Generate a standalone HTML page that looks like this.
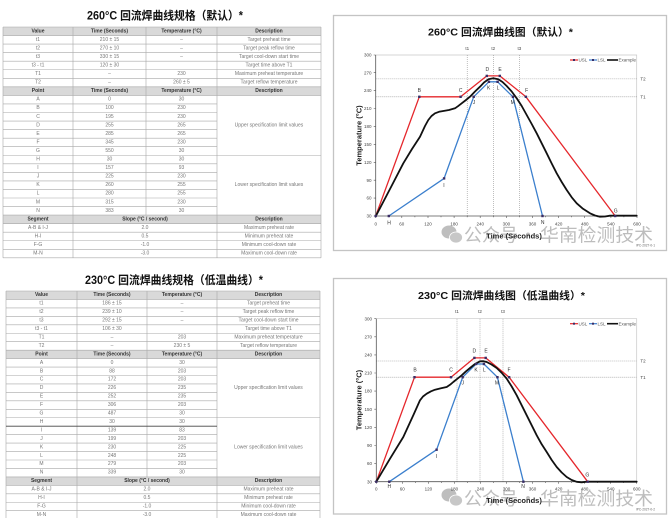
<!DOCTYPE html>
<html><head><meta charset="utf-8"><style>html,body{margin:0;padding:0;background:#fff}svg{display:block}</style></head>
<body>
<svg width="672" height="518" viewBox="0 0 672 518" xmlns="http://www.w3.org/2000/svg" font-family="Liberation Sans, Noto Sans CJK SC, sans-serif">
<rect width="672" height="518" fill="#fff"/>

<!-- ===================== TABLE 1 ===================== -->
<text x="87" y="19.5" font-size="11.5" font-weight="bold" fill="#111" textLength="156" lengthAdjust="spacingAndGlyphs">260°C 回流焊曲线规格（默认）*</text>
<g>
<rect x="3" y="27" width="318" height="8.55" fill="#d9d9d9"/>
<rect x="3" y="86.85" width="318" height="8.55" fill="#d9d9d9"/>
<rect x="3" y="215.1" width="318" height="8.55" fill="#d9d9d9"/>
<path fill="none" stroke="#a8a8a8" stroke-width="0.6" d="M3 27H321M3 35.55H321M3 44.1H321M3 52.65H321M3 61.2H321M3 69.75H321M3 78.3H321M3 86.85H321M3 95.4H321M3 103.95H217M3 112.5H217M3 121.05H217M3 129.6H217M3 138.15H217M3 146.7H217M3 155.25H321M3 163.8H217M3 172.35H217M3 180.9H217M3 189.45H217M3 198H217M3 206.55H217M3 215.1H321M3 223.65H321M3 232.2H321M3 240.75H321M3 249.3H321M3 257.85H321M3 27V257.85M73 27V257.85M146 27V215.1M217 27V257.85M321 27V257.85"/>
</g>
<g font-size="5" text-anchor="middle" dominant-baseline="central" fill="#333" font-weight="bold">
<text x="38" y="31.3">Value</text><text x="109.5" y="31.3">Time (Seconds)</text><text x="181.5" y="31.3">Temperature (°C)</text><text x="269" y="31.3">Description</text>
<text x="38" y="91.1">Point</text><text x="109.5" y="91.1">Time (Seconds)</text><text x="181.5" y="91.1">Temperature (°C)</text><text x="269" y="91.1">Description</text>
<text x="38" y="219.4">Segment</text><text x="145" y="219.4">Slope (°C / second)</text><text x="269" y="219.4">Description</text>
</g>
<g font-size="5" text-anchor="middle" dominant-baseline="central" fill="#777">
<text x="38" y="39.8">t1</text><text x="109.5" y="39.8">210 ± 15</text><text x="181.5" y="39.8">–</text><text x="269" y="39.8">Target preheat time</text>
<text x="38" y="48.4">t2</text><text x="109.5" y="48.4">270 ± 10</text><text x="181.5" y="48.4">–</text><text x="269" y="48.4">Target peak reflow time</text>
<text x="38" y="56.9">t3</text><text x="109.5" y="56.9">330 ± 15</text><text x="181.5" y="56.9">–</text><text x="269" y="56.9">Target cool-down start time</text>
<text x="38" y="65.5">t3 - t1</text><text x="109.5" y="65.5">120 ± 30</text><text x="269" y="65.5">Target time above T1</text>
<text x="38" y="74.0">T1</text><text x="109.5" y="74.0">–</text><text x="181.5" y="74.0">230</text><text x="269" y="74.0">Maximum preheat temperature</text>
<text x="38" y="82.6">T2</text><text x="109.5" y="82.6">–</text><text x="181.5" y="82.6">260 ± 5</text><text x="269" y="82.6">Target reflow temperature</text>
<text x="38" y="99.7">A</text><text x="109.5" y="99.7">0</text><text x="181.5" y="99.7">30</text>
<text x="38" y="108.2">B</text><text x="109.5" y="108.2">100</text><text x="181.5" y="108.2">230</text>
<text x="38" y="116.8">C</text><text x="109.5" y="116.8">195</text><text x="181.5" y="116.8">230</text>
<text x="38" y="125.3">D</text><text x="109.5" y="125.3">255</text><text x="181.5" y="125.3">265</text>
<text x="38" y="133.9">E</text><text x="109.5" y="133.9">285</text><text x="181.5" y="133.9">265</text>
<text x="38" y="142.4">F</text><text x="109.5" y="142.4">345</text><text x="181.5" y="142.4">230</text>
<text x="38" y="151.0">G</text><text x="109.5" y="151.0">550</text><text x="181.5" y="151.0">30</text>
<text x="38" y="159.5">H</text><text x="109.5" y="159.5">30</text><text x="181.5" y="159.5">30</text>
<text x="38" y="168.1">I</text><text x="109.5" y="168.1">157</text><text x="181.5" y="168.1">93</text>
<text x="38" y="176.6">J</text><text x="109.5" y="176.6">225</text><text x="181.5" y="176.6">230</text>
<text x="38" y="185.2">K</text><text x="109.5" y="185.2">260</text><text x="181.5" y="185.2">255</text>
<text x="38" y="193.7">L</text><text x="109.5" y="193.7">280</text><text x="181.5" y="193.7">255</text>
<text x="38" y="202.3">M</text><text x="109.5" y="202.3">315</text><text x="181.5" y="202.3">230</text>
<text x="38" y="210.8">N</text><text x="109.5" y="210.8">383</text><text x="181.5" y="210.8">30</text>
<text x="269" y="125.3">Upper specification limit values</text>
<text x="269" y="185.2">Lower specification limit values</text>
<text x="38" y="227.9">A-B &amp; I-J</text><text x="145" y="227.9">2.0</text><text x="269" y="227.9">Maximum preheat rate</text>
<text x="38" y="236.5">H-I</text><text x="145" y="236.5">0.5</text><text x="269" y="236.5">Minimum preheat rate</text>
<text x="38" y="245.0">F-G</text><text x="145" y="245.0">-1.0</text><text x="269" y="245.0">Minimum cool-down rate</text>
<text x="38" y="253.6">M-N</text><text x="145" y="253.6">-3.0</text><text x="269" y="253.6">Maximum cool-down rate</text>
</g>

<!-- ===================== TABLE 2 ===================== -->
<text x="85" y="284" font-size="11.5" font-weight="bold" fill="#111" textLength="178" lengthAdjust="spacingAndGlyphs">230°C 回流焊曲线规格（低温曲线）*</text>
<g>
<rect x="6" y="291" width="314" height="8.45" fill="#d9d9d9"/>
<rect x="6" y="350.15" width="314" height="8.45" fill="#d9d9d9"/>
<rect x="6" y="476.9" width="314" height="8.45" fill="#d9d9d9"/>
<path fill="none" stroke="#a8a8a8" stroke-width="0.6" d="M6 291H320M6 299.45H320M6 307.9H320M6 316.35H320M6 324.8H320M6 333.25H320M6 341.7H320M6 350.15H320M6 358.6H320M6 367.05H217M6 375.5H217M6 383.95H217M6 392.4H217M6 400.85H217M6 409.3H217M6 417.75H320M6 434.65H217M6 443.1H217M6 451.55H217M6 460H217M6 468.45H217M6 476.9H320M6 485.35H320M6 493.8H320M6 502.25H320M6 510.7H320M6 291V519M77 291V519M147 291V476.9M217 291V519M320 291V519"/>
<path d="M6 426.2H217" stroke="#444" stroke-width="0.8"/>
</g>
<g font-size="5" text-anchor="middle" dominant-baseline="central" fill="#333" font-weight="bold">
<text x="41.5" y="295.2">Value</text><text x="112" y="295.2">Time (Seconds)</text><text x="182" y="295.2">Temperature (°C)</text><text x="268.5" y="295.2">Description</text>
<text x="41.5" y="354.4">Point</text><text x="112" y="354.4">Time (Seconds)</text><text x="182" y="354.4">Temperature (°C)</text><text x="268.5" y="354.4">Description</text>
<text x="41.5" y="481.1">Segment</text><text x="147" y="481.1">Slope (°C / second)</text><text x="268.5" y="481.1">Description</text>
</g>
<g font-size="5" text-anchor="middle" dominant-baseline="central" fill="#777">
<text x="41.5" y="303.7">t1</text><text x="112" y="303.7">186 ± 15</text><text x="182" y="303.7">–</text><text x="268.5" y="303.7">Target preheat time</text>
<text x="41.5" y="312.1">t2</text><text x="112" y="312.1">239 ± 10</text><text x="182" y="312.1">–</text><text x="268.5" y="312.1">Target peak reflow time</text>
<text x="41.5" y="320.6">t3</text><text x="112" y="320.6">292 ± 15</text><text x="182" y="320.6">–</text><text x="268.5" y="320.6">Target cool-down start time</text>
<text x="41.5" y="329.0">t3 - t1</text><text x="112" y="329.0">106 ± 30</text><text x="268.5" y="329.0">Target time above T1</text>
<text x="41.5" y="337.5">T1</text><text x="112" y="337.5">–</text><text x="182" y="337.5">203</text><text x="268.5" y="337.5">Maximum preheat temperature</text>
<text x="41.5" y="345.9">T2</text><text x="112" y="345.9">–</text><text x="182" y="345.9">230 ± 5</text><text x="268.5" y="345.9">Target reflow temperature</text>
<text x="41.5" y="362.8">A</text><text x="112" y="362.8">0</text><text x="182" y="362.8">30</text>
<text x="41.5" y="371.3">B</text><text x="112" y="371.3">88</text><text x="182" y="371.3">203</text>
<text x="41.5" y="379.7">C</text><text x="112" y="379.7">172</text><text x="182" y="379.7">203</text>
<text x="41.5" y="388.2">D</text><text x="112" y="388.2">226</text><text x="182" y="388.2">235</text>
<text x="41.5" y="396.6">E</text><text x="112" y="396.6">252</text><text x="182" y="396.6">235</text>
<text x="41.5" y="405.1">F</text><text x="112" y="405.1">306</text><text x="182" y="405.1">203</text>
<text x="41.5" y="413.5">G</text><text x="112" y="413.5">487</text><text x="182" y="413.5">30</text>
<text x="41.5" y="422.0">H</text><text x="112" y="422.0">30</text><text x="182" y="422.0">30</text>
<text x="41.5" y="430.4">I</text><text x="112" y="430.4">139</text><text x="182" y="430.4">83</text>
<text x="41.5" y="438.9">J</text><text x="112" y="438.9">199</text><text x="182" y="438.9">203</text>
<text x="41.5" y="447.3">K</text><text x="112" y="447.3">230</text><text x="182" y="447.3">225</text>
<text x="41.5" y="455.8">L</text><text x="112" y="455.8">248</text><text x="182" y="455.8">225</text>
<text x="41.5" y="464.2">M</text><text x="112" y="464.2">279</text><text x="182" y="464.2">203</text>
<text x="41.5" y="472.7">N</text><text x="112" y="472.7">339</text><text x="182" y="472.7">30</text>
<text x="268.5" y="388.2">Upper specification limit values</text>
<text x="268.5" y="447.3">Lower specification limit values</text>
<text x="41.5" y="489.6">A-B &amp; I-J</text><text x="147" y="489.6">2.0</text><text x="268.5" y="489.6">Maximum preheat rate</text>
<text x="41.5" y="498.0">H-I</text><text x="147" y="498.0">0.5</text><text x="268.5" y="498.0">Minimum preheat rate</text>
<text x="41.5" y="506.5">F-G</text><text x="147" y="506.5">-1.0</text><text x="268.5" y="506.5">Minimum cool-down rate</text>
<text x="41.5" y="514.9">M-N</text><text x="147" y="514.9">-3.0</text><text x="268.5" y="514.9">Maximum cool-down rate</text>
</g>

<!-- ===================== CHART 1 ===================== -->
<rect x="333.5" y="15.5" width="333" height="235" fill="#fff" stroke="#c4c4c4" stroke-width="1.3"/>
<text x="428" y="35.5" font-size="10.5" font-weight="bold" fill="#111" textLength="145" lengthAdjust="spacingAndGlyphs">260°C 回流焊曲线图（默认）*</text>
<!-- watermark -->
<g opacity="0.75">
<ellipse cx="449" cy="232" rx="7.5" ry="6.5" fill="#a9a9a9"/>
<ellipse cx="456" cy="237.5" rx="6.5" ry="5.5" fill="#b5b5b5" stroke="#fff" stroke-width="0.8"/>
<text x="464" y="241.5" font-size="18" fill="#a8a8a8" font-family="Noto Sans CJK SC, sans-serif">公众号</text>
<text x="528" y="241.5" font-size="18" fill="#a8a8a8" text-anchor="middle" font-family="Noto Sans CJK SC, sans-serif">·</text>
<text x="540" y="241.5" font-size="18" fill="#a8a8a8" textLength="113" lengthAdjust="spacingAndGlyphs" font-family="Noto Sans CJK SC, sans-serif">华南检测技术</text>
</g>
<path d="M375.7 55H636.7V216" fill="none" stroke="#c8c8c8" stroke-width="0.7"/>
<g stroke="#8a8a8a" stroke-width="0.55" stroke-dasharray="1 1" fill="none">
<path d="M467.2 55V216M493.3 55V216M519.4 55V216M375.7 78.9H636.7M375.7 96.8H636.7"/>
</g>
<path d="M375.7 55V216H636.7" fill="none" stroke="#555" stroke-width="0.8"/>
<path fill="none" stroke="#555" stroke-width="0.6" d="M373.7 216H375.7M373.7 198.1H375.7M373.7 180.2H375.7M373.7 162.3H375.7M373.7 144.4H375.7M373.7 126.4H375.7M373.7 108.5H375.7M373.7 90.6H375.7M373.7 72.7H375.7M373.7 55H375.7M375.7 216v2M401.8 216v2M428 216v2M454.1 216v2M480.2 216v2M506.4 216v2M532.5 216v2M558.6 216v2M584.7 216v2M610.9 216v2M637 216v2M388.8 216v1.3M414.9 216v1.3M441 216v1.3M467.2 216v1.3M493.3 216v1.3M519.4 216v1.3M545.5 216v1.3M571.7 216v1.3M597.8 216v1.3M623.9 216v1.3"/>
<g font-size="4.5" fill="#444" text-anchor="end">
<text x="371.5" y="217.6">30</text><text x="371.5" y="199.7">60</text><text x="371.5" y="181.8">90</text><text x="371.5" y="163.9">120</text><text x="371.5" y="146">150</text><text x="371.5" y="128">180</text><text x="371.5" y="110.1">210</text><text x="371.5" y="92.2">240</text><text x="371.5" y="74.3">270</text><text x="371.5" y="56.6">300</text>
</g>
<g font-size="4.5" fill="#444" text-anchor="middle">
<text x="375.7" y="225.7">0</text><text x="401.8" y="225.7">60</text><text x="428" y="225.7">120</text><text x="454.1" y="225.7">180</text><text x="480.2" y="225.7">240</text><text x="506.4" y="225.7">300</text><text x="532.5" y="225.7">360</text><text x="558.6" y="225.7">420</text><text x="584.7" y="225.7">480</text><text x="610.9" y="225.7">540</text><text x="637" y="225.7">600</text>
<text x="467.2" y="50">t1</text><text x="493.3" y="50">t2</text><text x="519.4" y="50">t3</text>
<text x="643" y="80.5">T2</text><text x="643" y="98.4">T1</text>
</g>
<text x="359" y="135.5" font-size="7.5" font-weight="bold" fill="#222" text-anchor="middle" dominant-baseline="central" transform="rotate(-90 359 135.5)">Temperature (°C)</text>
<text x="514" y="238.3" font-size="7.5" font-weight="bold" fill="#222" text-anchor="middle">Time (Seconds)</text>
<text x="655" y="246.5" font-size="3.2" fill="#666" text-anchor="end">IPC-2027-0-1</text>
<polyline fill="none" stroke="#e5272c" stroke-width="1.3" stroke-linejoin="round" points="375.7,216 419.3,96.8 460.6,96.8 486.8,75.9 499.8,75.9 525.9,96.8 615.2,216"/>
<polyline fill="none" stroke="#3b7fcd" stroke-width="1.3" stroke-linejoin="round" points="388.8,216 444.1,178.4 473.7,96.8 488.9,81.8 497.6,81.8 512.9,96.8 542.5,216"/>
<polyline fill="none" stroke="#111" stroke-width="1.8" stroke-linejoin="round" stroke-linecap="round" points="376,215.7 390,189 403.3,163.3 412,149 420,136.7 425,126 428.3,120 431.5,116 435,113.3 439,111.8 443.3,111 449,110 455,108.3 458,106.2 461.7,103.3 466,100 470,96.7 475,91.5 480,86.7 484,82.5 488.3,79.3 493.3,78.3 498.3,79.3 502.5,82 506.7,86 511.7,91.5 516.7,98.3 521.7,106 526.7,115 531.7,124 536.7,133.3 541.7,143.3 546.7,153.3 551.7,163.5 556.7,173.3 561.7,182 566.7,190 571.7,197.3 576.7,203.3 583,208.8 590,213.3 595,215.5 600,216.7 605,216.5 610,215.7 636.7,215.7"/>
<g fill="#3a2d66">
<rect x="374.5" y="214.8" width="2.4" height="2.4"/><rect x="418.1" y="95.6" width="2.4" height="2.4"/><rect x="459.4" y="95.6" width="2.4" height="2.4"/><rect x="485.6" y="74.7" width="2.4" height="2.4"/><rect x="498.6" y="74.7" width="2.4" height="2.4"/><rect x="524.7" y="95.6" width="2.4" height="2.4"/><rect x="614" y="214.8" width="2.4" height="2.4"/>
<rect x="387.6" y="214.8" width="2.4" height="2.4"/><rect x="442.9" y="177.2" width="2.4" height="2.4"/><rect x="472.5" y="95.6" width="2.4" height="2.4"/><rect x="487.7" y="80.6" width="2.4" height="2.4"/><rect x="496.4" y="80.6" width="2.4" height="2.4"/><rect x="511.7" y="95.6" width="2.4" height="2.4"/><rect x="541.3" y="214.8" width="2.4" height="2.4"/>
</g>
<g font-size="5" fill="#333" text-anchor="middle">
<text x="419.3" y="91.8">B</text><text x="460.7" y="91.8">C</text><text x="487.3" y="70.8">D</text><text x="500" y="70.8">E</text><text x="526.7" y="91.8">F</text><text x="615.7" y="212.5">G</text>
<text x="488.7" y="89.5">K</text><text x="498" y="89.5">L</text><text x="474" y="104.1">J</text><text x="512.7" y="104.1">M</text><text x="444" y="186.8">I</text><text x="389" y="224.5">H</text><text x="542.7" y="224">N</text>
</g>
<path d="M570 60H578" stroke-width="1.2" fill="none" stroke="#e5272c"/>
<path d="M589 60H597" stroke-width="1.2" stroke="#3b7fcd"/>
<path d="M607 60H618" stroke-width="1.6" stroke="#111"/>
<rect x="573" y="59" width="2" height="2" fill="#3a2d66"/><rect x="592" y="59" width="2" height="2" fill="#3a2d66"/>
<g font-size="4.5" fill="#555"><text x="578.5" y="61.6">USL</text><text x="597.5" y="61.6">LSL</text><text x="618.5" y="61.6">Example</text></g>

<!-- ===================== CHART 2 ===================== -->
<rect x="333.5" y="278.5" width="333" height="235.5" fill="#fff" stroke="#c4c4c4" stroke-width="1.3"/>
<text x="418" y="299" font-size="10.5" font-weight="bold" fill="#111" textLength="167" lengthAdjust="spacingAndGlyphs">230°C 回流焊曲线图（低温曲线）*</text>
<g opacity="0.75">
<ellipse cx="449" cy="495" rx="7.5" ry="6.5" fill="#a9a9a9"/>
<ellipse cx="456" cy="500.5" rx="6.5" ry="5.5" fill="#b5b5b5" stroke="#fff" stroke-width="0.8"/>
<text x="464" y="505" font-size="18" fill="#a8a8a8" font-family="Noto Sans CJK SC, sans-serif">公众号</text>
<text x="528" y="505" font-size="18" fill="#a8a8a8" text-anchor="middle" font-family="Noto Sans CJK SC, sans-serif">·</text>
<text x="540" y="505" font-size="18" fill="#a8a8a8" textLength="113" lengthAdjust="spacingAndGlyphs" font-family="Noto Sans CJK SC, sans-serif">华南检测技术</text>
</g>
<path d="M376.3 318.7H636.7V481.7" fill="none" stroke="#c8c8c8" stroke-width="0.7"/>
<g stroke="#8a8a8a" stroke-width="0.55" stroke-dasharray="1 1" fill="none">
<path d="M457 318.7V481.7M480 318.7V481.7M503 318.7V481.7M376.3 361H636.7M376.3 377.2H636.7"/>
</g>
<path d="M376.3 318.7V481.7H636.7" fill="none" stroke="#555" stroke-width="0.8"/>
<path fill="none" stroke="#555" stroke-width="0.6" d="M374.3 481.7H376.3M374.3 463.6H376.3M374.3 445.5H376.3M374.3 427.4H376.3M374.3 409.2H376.3M374.3 391.1H376.3M374.3 373H376.3M374.3 354.9H376.3M374.3 336.8H376.3M374.3 318.7H376.3M376.3 481.7v2M402.3 481.7v2M428.4 481.7v2M454.4 481.7v2M480.5 481.7v2M506.5 481.7v2M532.5 481.7v2M558.6 481.7v2M584.6 481.7v2M610.7 481.7v2M636.7 481.7v2M389.3 481.7v1.3M415.4 481.7v1.3M441.4 481.7v1.3M467.5 481.7v1.3M493.5 481.7v1.3M519.5 481.7v1.3M545.6 481.7v1.3M571.6 481.7v1.3M597.7 481.7v1.3M623.7 481.7v1.3"/>
<g font-size="4.5" fill="#444" text-anchor="end">
<text x="372" y="483.3">30</text><text x="372" y="465.2">60</text><text x="372" y="447.1">90</text><text x="372" y="429">120</text><text x="372" y="410.8">150</text><text x="372" y="392.7">180</text><text x="372" y="374.6">210</text><text x="372" y="356.5">240</text><text x="372" y="338.4">270</text><text x="372" y="320.3">300</text>
</g>
<g font-size="4.5" fill="#444" text-anchor="middle">
<text x="376.3" y="490.4">0</text><text x="402.3" y="490.4">60</text><text x="428.4" y="490.4">120</text><text x="454.4" y="490.4">180</text><text x="480.5" y="490.4">240</text><text x="506.5" y="490.4">300</text><text x="532.5" y="490.4">360</text><text x="558.6" y="490.4">420</text><text x="584.6" y="490.4">480</text><text x="610.7" y="490.4">540</text><text x="636.7" y="490.4">600</text>
<text x="457" y="313">t1</text><text x="480" y="313">t2</text><text x="503" y="313">t3</text>
<text x="643" y="362.6">T2</text><text x="643" y="378.8">T1</text>
</g>
<text x="359" y="400" font-size="7.5" font-weight="bold" fill="#222" text-anchor="middle" dominant-baseline="central" transform="rotate(-90 359 400)">Temperature (°C)</text>
<text x="514" y="503" font-size="7.5" font-weight="bold" fill="#222" text-anchor="middle">Time (Seconds)</text>
<text x="655" y="510.5" font-size="3.2" fill="#666" text-anchor="end">IPC-2027-0-2</text>
<polyline fill="none" stroke="#e5272c" stroke-width="1.3" stroke-linejoin="round" points="376.3,481.7 414.5,377.2 451,377.2 474.4,357.9 485.7,357.9 509.1,377.2 587.7,481.7"/>
<polyline fill="none" stroke="#3b7fcd" stroke-width="1.3" stroke-linejoin="round" points="389.3,481.7 436.6,449.7 462.7,377.2 476.1,364 483.9,364 497.4,377.2 523.4,481.7"/>
<polyline fill="none" stroke="#111" stroke-width="1.8" stroke-linejoin="round" stroke-linecap="round" points="376.5,481.3 390,458.7 403.3,437 413.3,415.3 417,407 420,400.3 423,396.5 426.7,393.7 431,391.3 435,389.7 441,388.3 446.7,387 450,384.8 453.3,382 461.7,375.3 466,371.3 470,368 475,364 480,361.3 483.5,361.2 486.7,362 491.5,364.5 496.7,368 501.7,372.8 506.7,378.7 511.7,386.5 516.7,395.3 521.7,405.3 526.7,415.3 531.7,425.3 536.7,435.3 541.7,444.3 546.7,452 551.7,460 556.7,467 561.7,472.5 566.7,477 571.7,480 576.7,481.8 581.7,482.3 586.7,481.7 636.7,481.7"/>
<g fill="#3a2d66">
<rect x="375.1" y="480.5" width="2.4" height="2.4"/><rect x="413.3" y="376" width="2.4" height="2.4"/><rect x="449.8" y="376" width="2.4" height="2.4"/><rect x="473.2" y="356.7" width="2.4" height="2.4"/><rect x="484.5" y="356.7" width="2.4" height="2.4"/><rect x="507.9" y="376" width="2.4" height="2.4"/><rect x="586.5" y="480.5" width="2.4" height="2.4"/>
<rect x="388.1" y="480.5" width="2.4" height="2.4"/><rect x="435.4" y="448.5" width="2.4" height="2.4"/><rect x="461.5" y="376" width="2.4" height="2.4"/><rect x="474.9" y="362.8" width="2.4" height="2.4"/><rect x="482.7" y="362.8" width="2.4" height="2.4"/><rect x="496.2" y="376" width="2.4" height="2.4"/><rect x="522.2" y="480.5" width="2.4" height="2.4"/>
</g>
<g font-size="5" fill="#333" text-anchor="middle">
<text x="415" y="371.5">B</text><text x="451" y="371.5">C</text><text x="474.3" y="352.5">D</text><text x="486" y="352.5">E</text><text x="509" y="371.5">F</text><text x="587.3" y="476.5">G</text>
<text x="476" y="371.5">K</text><text x="484.3" y="371.5">L</text><text x="462.7" y="384.5">J</text><text x="497" y="384.5">M</text><text x="436.7" y="458.1">I</text><text x="389.3" y="488">H</text><text x="523" y="488">N</text>
</g>
<path d="M570 323.7H578" stroke-width="1.2" fill="none" stroke="#e5272c"/>
<path d="M589 323.7H597" stroke-width="1.2" stroke="#3b7fcd"/>
<path d="M607 323.7H618" stroke-width="1.6" stroke="#111"/>
<rect x="573" y="322.7" width="2" height="2" fill="#3a2d66"/><rect x="592" y="322.7" width="2" height="2" fill="#3a2d66"/>
<g font-size="4.5" fill="#555"><text x="578.5" y="325.3">USL</text><text x="597.5" y="325.3">LSL</text><text x="618.5" y="325.3">Example</text></g>
</svg>
</body></html>
